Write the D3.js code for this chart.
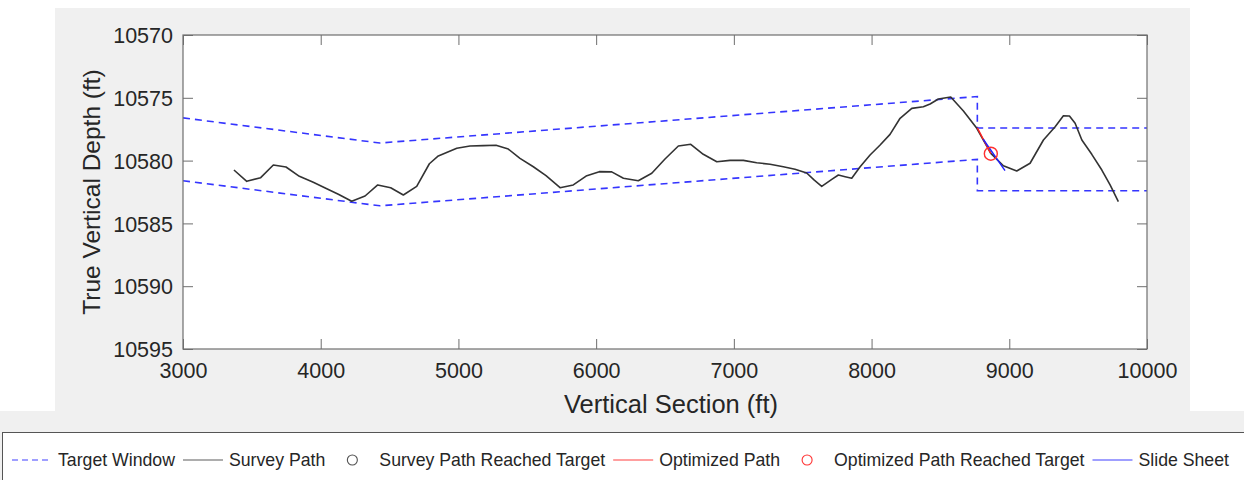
<!DOCTYPE html>
<html>
<head>
<meta charset="utf-8">
<script src="https://cdn.jsdelivr.net/npm/d3@7"></script>
<style>
  body { margin: 0; background: #fff; }
  svg { display: block; font-family: 'Liberation Sans', Arial, sans-serif; }
</style>
</head>
<body>
<svg id="chart" width="1244" height="480"></svg>
<script>
// survey stations (vertical section ft, true vertical depth ft)
const surveyVS = [3370, 3463, 3564, 3656, 3748, 3845, 3946, 4044, 4128, 4225, 4322, 4414, 4508, 4600, 4697, 4789,
  4854, 4988, 5084, 5181, 5273, 5362, 5447, 5544, 5636, 5738, 5834, 5927, 6023, 6113, 6198, 6306, 6404, 6500,
  6597, 6687, 6778, 6876, 6972, 7069, 7166, 7263, 7359, 7444, 7529, 7582, 7638, 7711, 7759, 7808, 7856, 7917,
  7989, 8062, 8134, 8207, 8292, 8376, 8425, 8485, 8575, 8667, 8764, 8866, 8957, 9054, 9151, 9248, 9333, 9393,
  9437, 9478, 9527, 9599, 9672, 9732, 9792];
const surveyTVD = [10580.75, 10581.65, 10581.36, 10580.35, 10580.51, 10581.25, 10581.73, 10582.24, 10582.68,
  10583.24, 10582.82, 10581.94, 10582.16, 10582.74, 10582.05, 10580.25, 10579.63, 10579.02, 10578.84, 10578.81,
  10578.78, 10579.08, 10579.82, 10580.49, 10581.2, 10582.16, 10581.94, 10581.23, 10580.88, 10580.9, 10581.41,
  10581.6, 10581.01, 10579.87, 10578.84, 10578.7, 10579.5, 10580.09, 10579.98, 10579.98, 10580.17, 10580.29,
  10580.49, 10580.69, 10580.99, 10581.54, 10582.05, 10581.49, 10581.15, 10581.28, 10581.41, 10580.49, 10579.55,
  10578.76, 10577.91, 10576.63, 10575.84, 10575.71, 10575.49, 10575.1, 10574.94, 10576.05, 10577.43, 10579.42,
  10580.41, 10580.83, 10580.21, 10578.36, 10577.3, 10576.43, 10576.45, 10577.03, 10578.36, 10579.5, 10580.75,
  10581.94, 10583.27];

// target window, top and bottom edges
const windowTopVS = [3000, 4430, 8768, 8768, 10000];
const windowTopTVD = [10576.6, 10578.6, 10574.9, 10577.4, 10577.4];
const windowBotVS = [3000, 4430, 8768, 8768, 10000];
const windowBotTVD = [10581.6, 10583.6, 10579.9, 10582.4, 10582.4];

const optimVS = [8768, 8866];
const optimTVD = [10577.4, 10579.45];
const optimHitVS = [8866];
const optimHitTVD = [10579.45];

const slideVS = [8811, 8969];
const slideTVD = [10578.3, 10580.8];

const xTicks = [3000, 4000, 5000, 6000, 7000, 8000, 9000, 10000];
const yTicks = [10570, 10575, 10580, 10585, 10590, 10595];

const legendItems = [
  { label: 'Target Window', kind: 'line', color: '#0000ff', dash: '6,4' },
  { label: 'Survey Path', kind: 'line', color: '#262626' },
  { label: 'Survey Path Reached Target', kind: 'circle', color: '#262626' },
  { label: 'Optimized Path', kind: 'line', color: '#ff0000' },
  { label: 'Optimized Path Reached Target', kind: 'circle', color: '#ff0000' },
  { label: 'Slide Sheet', kind: 'line', color: '#0000ff' },
];

const svg = d3.select('#chart');
const plot = { left: 183, right: 1147, top: 35, bottom: 349 };

// figure backgrounds
svg.append('rect').attr('x', 55).attr('y', 8).attr('width', 1135).attr('height', 410).attr('fill', '#f0f0f0');
svg.append('rect').attr('x', 0).attr('y', 411).attr('width', 1244).attr('height', 69).attr('fill', '#f0f0f0');
svg.append('rect').attr('x', plot.left).attr('y', plot.top)
  .attr('width', plot.right - plot.left).attr('height', plot.bottom - plot.top).attr('fill', '#fff');

const x = d3.scaleLinear().domain([3000, 10000]).range([plot.left, plot.right]);
const y = d3.scaleLinear().domain([10570, 10595]).range([plot.top, plot.bottom]);

const axisColor = '#6e6e6e';
const textColor = '#262626';

function styleAxis(g) {
  g.select('.domain').remove();
  g.selectAll('.tick line').attr('stroke', axisColor);
  g.selectAll('.tick text').attr('fill', textColor).style('font-size', '21.5px');
}

svg.append('g').attr('transform', `translate(0,${plot.bottom})`)
  .call(d3.axisBottom(x).tickValues(xTicks).tickSize(-10).tickPadding(14).tickFormat(d3.format('d')))
  .call(styleAxis);
svg.append('g').attr('transform', `translate(0,${plot.top})`)
  .call(d3.axisTop(x).tickValues(xTicks).tickSize(-10).tickFormat(''))
  .call(styleAxis);
svg.append('g').attr('transform', `translate(${plot.left},0)`)
  .call(d3.axisLeft(y).tickValues(yTicks).tickSize(-10).tickPadding(10).tickFormat(d3.format('d')))
  .call(styleAxis)
  .selectAll('.tick text').attr('dy', '0.36em');
svg.append('g').attr('transform', `translate(${plot.right},0)`)
  .call(d3.axisRight(y).tickValues(yTicks).tickSize(-10).tickFormat(''))
  .call(styleAxis);

// clip to axes
svg.append('clipPath').attr('id', 'clip').append('rect')
  .attr('x', plot.left).attr('y', plot.top)
  .attr('width', plot.right - plot.left).attr('height', plot.bottom - plot.top);
const marks = svg.append('g').attr('clip-path', 'url(#clip)');

const line = d3.line().x(d => x(d[0])).y(d => y(d[1]));
const zip = (a, b) => a.map((v, i) => [v, b[i]]);

marks.append('path').datum(zip(windowTopVS, windowTopTVD)).attr('d', line)
  .attr('fill', 'none').attr('stroke', '#3535ff').attr('stroke-width', 1.6).attr('stroke-dasharray', '7,5');
marks.append('path').datum(zip(windowBotVS, windowBotTVD)).attr('d', line)
  .attr('fill', 'none').attr('stroke', '#3535ff').attr('stroke-width', 1.6).attr('stroke-dasharray', '7,5');

marks.append('path').datum(zip(surveyVS, surveyTVD)).attr('d', line)
  .attr('fill', 'none').attr('stroke', '#333').attr('stroke-width', 1.6).attr('stroke-linejoin', 'round');

marks.append('path').datum(zip(optimVS, optimTVD)).attr('d', line)
  .attr('fill', 'none').attr('stroke', '#ff2020').attr('stroke-width', 1.4);
marks.append('path').datum(zip(slideVS, slideTVD)).attr('d', line)
  .attr('fill', 'none').attr('stroke', '#2020ff').attr('stroke-width', 1.4);

marks.selectAll('circle.hit').data(zip(optimHitVS, optimHitTVD)).join('circle')
  .attr('class', 'hit')
  .attr('cx', d => x(d[0])).attr('cy', d => y(d[1])).attr('r', 6.5)
  .attr('fill', 'none').attr('stroke', '#ff3030').attr('stroke-width', 1.4);

// axes box
svg.append('rect').attr('x', plot.left).attr('y', plot.top)
  .attr('width', plot.right - plot.left).attr('height', plot.bottom - plot.top)
  .attr('fill', 'none').attr('stroke', axisColor).attr('stroke-width', 1.2);

// axis labels
svg.append('text').attr('x', 671).attr('y', 413)
  .attr('text-anchor', 'middle').attr('fill', textColor).style('font-size', '25.5px')
  .text('Vertical Section (ft)');
svg.append('text').attr('transform', `translate(100,${(plot.top + plot.bottom) / 2}) rotate(-90)`)
  .attr('text-anchor', 'middle').attr('fill', textColor).style('font-size', '24.5px')
  .text('True Vertical Depth (ft)');

// legend
const legend = svg.append('g');
legend.append('rect').attr('x', 2.5).attr('y', 432.5).attr('width', 1260).attr('height', 60)
  .attr('fill', '#fff').attr('stroke', '#555').attr('stroke-width', 1);
const ly = 460;
let lx = 12;
legendItems.forEach(item => {
  if (item.kind === 'line') {
    legend.append('line').attr('x1', lx).attr('x2', lx + 40).attr('y1', ly).attr('y2', ly)
      .attr('stroke', item.color).attr('stroke-width', 1.2).attr('stroke-dasharray', item.dash || null)
      .attr('opacity', 0.75);
  } else {
    legend.append('circle').attr('cx', lx + 19).attr('cy', ly).attr('r', 5)
      .attr('fill', 'none').attr('stroke', item.color).attr('stroke-width', 1.1).attr('opacity', 0.8);
  }
  const t = legend.append('text').attr('x', lx + 46).attr('y', ly).attr('dy', '0.35em')
    .attr('fill', textColor).style('font-size', '17.7px').text(item.label);
  lx += 46 + t.node().getComputedTextLength() + 8;
});
</script>
</body>
</html>
